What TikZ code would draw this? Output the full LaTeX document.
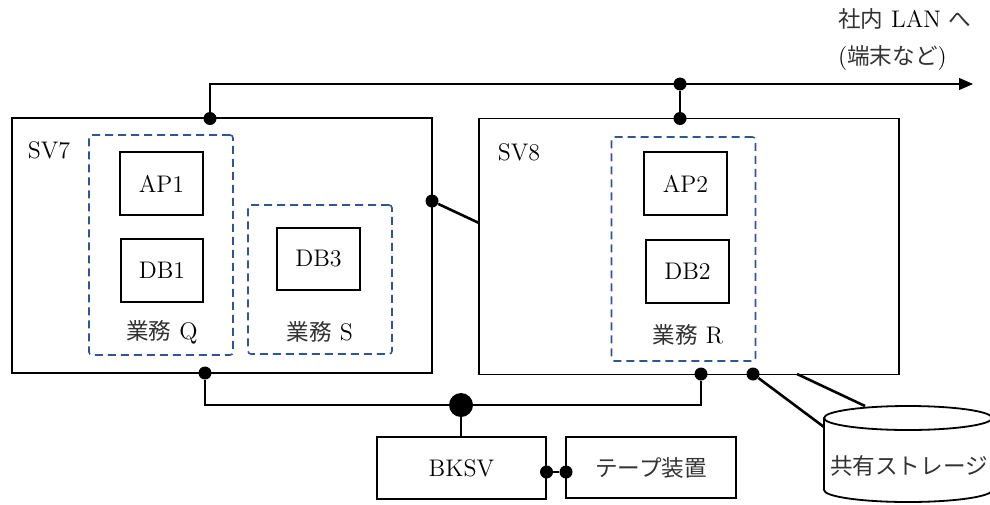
\documentclass[tikz,border=0pt]{standalone}
\usepackage{fontspec}
\newfontfamily\jpfont{Noto Sans CJK JP}
\usetikzlibrary{arrows.meta,positioning}
\definecolor{grpblue}{RGB}{47,85,151}
\newcommand{\jtxt}[1]{{\jpfont\fontsize{11.3pt}{13pt}\selectfont\color{black!80}#1}}

\begin{document}
\begin{tikzpicture}[x=0.5pt, y=-0.5pt,
    font=\fontsize{12pt}{14pt}\selectfont,
    srv/.style={draw, line width=0.9pt, inner sep=0pt},
    grp/.style={draw=grpblue, line width=0.8pt, dash pattern=on 4pt off 2.5pt,
                rounded corners=1.5pt, inner sep=0pt},
    pnt/.style={circle, fill=black, inner sep=0pt, minimum size=6.5pt},
    hub/.style={circle, fill=black, inner sep=0pt, minimum size=12pt},
    net/.style={line width=0.6pt},
    lnk/.style={line width=1.3pt},
]
\useasboundingbox (0,0) rectangle (990,504);

% Servers
\node[srv, minimum width=210pt, minimum height=127.5pt] (sv7) at (222,245.5) {};
\node[srv, minimum width=210pt, minimum height=128pt] (sv8) at (689,246.5) {};
\node (sv7lbl) at (49,150) {SV7};
\node (sv8lbl) at (519,152) {SV8};

% Business groups
\node[grp, minimum width=72pt, minimum height=110pt] (grpq) at (161,245) {};
\node[grp, minimum width=72pt, minimum height=74.5pt] (grps) at (320,279.5) {};
\node[grp, minimum width=72pt, minimum height=112pt] (grpr) at (683.5,249) {};
\node (lblq) at (162,332) {\jtxt{業務} Q};
\node (lbls) at (320,332) {\jtxt{業務} S};
\node (lblr) at (688,335) {\jtxt{業務} R};

% Programs / databases
\node[srv, minimum width=41.5pt, minimum height=31.5pt] (ap1) at (161.5,183.5) {AP1};
\node[srv, minimum width=41pt, minimum height=31.5pt] (db1) at (162,270.5) {DB1};
\node[srv, minimum width=41.5pt, minimum height=31pt] (db3) at (318.5,259) {DB3};
\node[srv, minimum width=41.5pt, minimum height=31.5pt] (ap2) at (685.5,183.5) {AP2};
\node[srv, minimum width=41.5pt, minimum height=31.5pt] (db2) at (687.5,271.5) {DB2};

% Backup
\node[srv, minimum width=84.5pt, minimum height=31pt] (bksv) at (461.5,468) {BKSV};
\node[srv, minimum width=85pt, minimum height=30.5pt] (tape) at (651,467.5) {\jtxt{テープ装置}};

% Shared storage
\draw[line width=0.9pt] (908,418) ellipse [x radius=84, y radius=12];
\draw[line width=0.9pt] (824,418) -- (824,490)
    arc[start angle=180, end angle=0, x radius=84, y radius=12] -- (992,418);
\node (stor) at (909,466) {\jtxt{共有ストレージ}};

% LAN text
\node[anchor=west] (lan1) at (831,19) {\jtxt{社内} LAN \jtxt{へ}};
\node[anchor=west] (lan2) at (831,58) {(\jtxt{端末など})};

% Connection points
\node[pnt] (p1) at (210,118.5) {};
\node[pnt] (p2) at (680,84) {};
\node[pnt] (p3) at (680,118.5) {};
\node[pnt] (p4) at (432,201) {};
\node[pnt] (p5) at (205,373) {};
\node[pnt] (p6) at (701,374) {};
\node[pnt] (p7) at (753,374) {};
\node[hub] (hb) at (461,405) {};
\node[pnt] (p8) at (546.5,472) {};
\node[pnt] (p9) at (566,472) {};
\coordinate (lanend) at (973,84);
\coordinate (sv8in) at (479,223);
\coordinate (sv8out) at (797,374);
\coordinate (storl) at (824,427);
\coordinate (stort) at (865,406);

% Lines
\draw[net, -{Triangle[length=7pt, width=6pt]}] (p1) |- (lanend);
\draw[net] (p2) -- (p3);
\draw[lnk] (p4) -- (sv8in);
\draw[net] (p5) |- (hb) -| (p6);
\draw[net] (hb) -- (hb |- bksv.north);
\draw[net] (p8) -- (p9);
\draw[lnk] (p7) -- (storl);
\draw[lnk] (sv8out) -- (stort);
\end{tikzpicture}
\end{document}
